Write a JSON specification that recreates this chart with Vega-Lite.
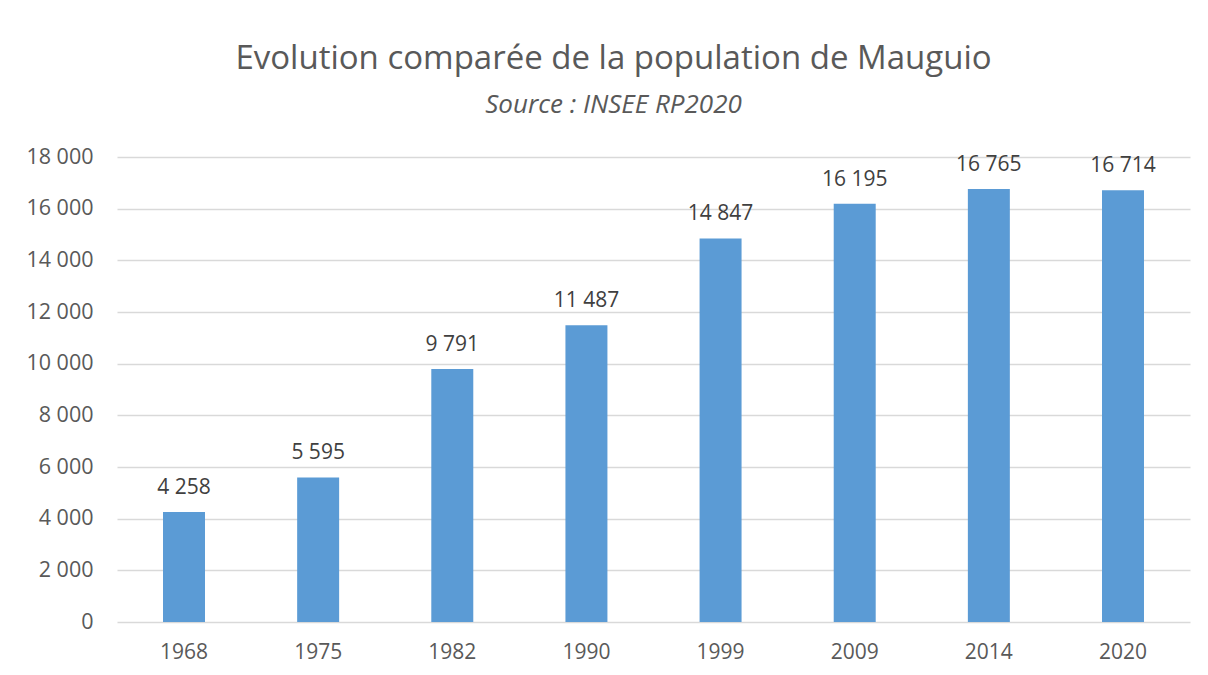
{
  "$schema": "https://vega.github.io/schema/vega-lite/v6.json",
  "autosize": {"type": "none"},
  "padding": {"left": 117, "top": 157, "right": 18, "bottom": 53},
  "width": 1073,
  "height": 465,
  "background": "#ffffff",
  "config": {
    "font": "Open Sans",
    "view": {"stroke": null},
    "locale": {"number": {"decimal": ",", "thousands": " ", "grouping": [3], "currency": ["", " €"]}}
  },
  "title": {
    "text": "Evolution comparée de la population de Mauguio",
    "subtitle": "Source : INSEE RP2020",
    "anchor": "middle",
    "dx": -40,
    "offset": 28,
    "font": "Open Sans",
    "fontSize": 33,
    "fontWeight": "normal",
    "color": "#595959",
    "subtitleFont": "Open Sans",
    "subtitleFontSize": 26,
    "subtitleFontStyle": "italic",
    "subtitleColor": "#595959",
    "subtitlePadding": 16
  },
  "data": {
    "values": [
      {"annee": "1968", "population": 4258},
      {"annee": "1975", "population": 5595},
      {"annee": "1982", "population": 9791},
      {"annee": "1990", "population": 11487},
      {"annee": "1999", "population": 14847},
      {"annee": "2009", "population": 16195},
      {"annee": "2014", "population": 16765},
      {"annee": "2020", "population": 16714}
    ]
  },
  "encoding": {
    "x": {
      "field": "annee",
      "type": "nominal",
      "sort": null,
      "scale": {"paddingInner": 0.687, "paddingOuter": 0.343},
      "axis": {
        "title": null,
        "labelAngle": 0,
        "ticks": false,
        "domain": false,
        "labelFontSize": 21,
        "labelColor": "#595959",
        "labelPadding": 19,
        "grid": false
      }
    },
    "y": {
      "field": "population",
      "type": "quantitative",
      "scale": {"domain": [0, 18000], "nice": false},
      "axis": {
        "title": null,
        "values": [0, 2000, 4000, 6000, 8000, 10000, 12000, 14000, 16000, 18000],
        "format": ",d",
        "ticks": false,
        "domain": false,
        "labelFontSize": 21.5,
        "labelColor": "#595959",
        "labelPadding": 24,
        "gridColor": "#D9D9D9",
        "gridWidth": 1.3
      }
    }
  },
  "layer": [
    {"mark": {"type": "bar", "color": "#5B9BD5"}},
    {
      "mark": {"type": "text", "baseline": "alphabetic", "dy": -18, "fontSize": 21, "color": "#404040", "font": "Open Sans"},
      "encoding": {"text": {"field": "population", "type": "quantitative", "format": ",d"}}
    }
  ]
}
